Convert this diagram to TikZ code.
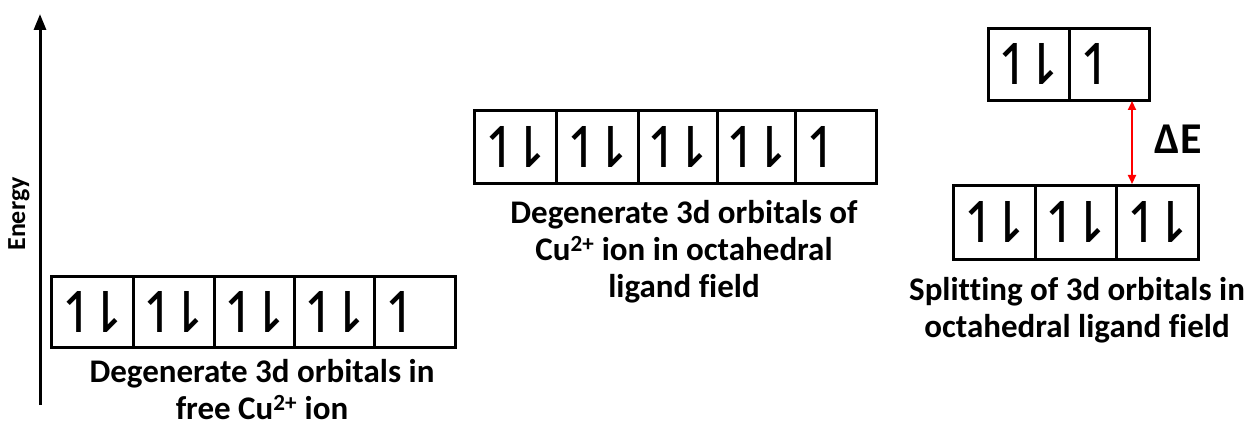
\documentclass[tikz,border=0pt]{standalone}
\usepackage{fontspec}
\setmainfont{Carlito}[Ligatures=NoCommon]
\newfontfamily\djv{DejaVu Sans}
\usetikzlibrary{arrows.meta}
\tikzset{
  cell/.style={draw=black, line width=2.6pt, minimum height=71pt, inner sep=0pt, font=\djv\fontsize{56}{58}\selectfont, anchor=north west},
  lbl/.style={font=\bfseries\fontsize{33}{37}\selectfont, align=center, inner sep=0pt},
  axis/.style={line width=3pt, -{Triangle[length=16pt,width=12pt]}},
  gap/.style={draw=red, line width=2pt, {Triangle[length=9pt,width=8pt]}-{Triangle[length=9pt,width=8pt]}}
}
\newcommand{\pr}{↿\kern-0.36em⇂}
\newcommand{\sg}{↿\kern0.45em\relax}
\begin{document}
\begin{tikzpicture}[x=1pt,y=-1pt]
\useasboundingbox (0,0) rectangle (1248,425);
% energy axis
\coordinate (ax0) at (40,405);
\coordinate (ax1) at (40,14);
\draw[axis] (ax0) -- (ax1);
\node[rotate=90, font=\bfseries\fontsize{26}{28}\selectfont, inner sep=0pt] (energy) at (19,214) {Energy};
% free ion row
\node[cell, minimum width=82pt] (a1) at (50,275) {\pr};
\node[cell, minimum width=81pt] (a2) at (132,275) {\pr};
\node[cell, minimum width=80pt] (a3) at (213,275) {\pr};
\node[cell, minimum width=80pt] (a4) at (293,275) {\pr};
\node[cell, minimum width=81pt] (a5) at (373,275) {\sg};
\node[lbl] (la) at (262,390) {Degenerate 3d orbitals in\\free Cu\textsuperscript{2+} ion};
% octahedral degenerate row
\node[cell, minimum width=82pt, minimum height=73pt] (b1) at (473,109) {\pr};
\node[cell, minimum width=82pt, minimum height=73pt] (b2) at (555,109) {\pr};
\node[cell, minimum width=79pt, minimum height=73pt] (b3) at (637,109) {\pr};
\node[cell, minimum width=78pt, minimum height=73pt] (b4) at (716,109) {\pr};
\node[cell, minimum width=81pt, minimum height=73pt] (b5) at (794,109) {\sg};
\node[lbl] (lb) at (684,252) {Degenerate 3d orbitals of\\Cu\textsuperscript{2+} ion in octahedral\\ligand field};
% split: eg
\node[cell, minimum width=81pt, minimum height=72pt] (e1) at (987,27) {\pr};
\node[cell, minimum width=80pt, minimum height=72pt] (e2) at (1068,27) {\sg};
% split: t2g
\node[cell, minimum width=82pt, minimum height=74pt] (t1) at (952,184) {\pr};
\node[cell, minimum width=81pt, minimum height=74pt] (t2) at (1034,184) {\pr};
\node[cell, minimum width=82pt, minimum height=74pt] (t3) at (1115,184) {\pr};
\coordinate (gtop) at (1132,101);
\coordinate (gbot) at (1132,184);
\draw[gap] (gtop) -- (gbot);
\node[font=\bfseries\fontsize{44}{46}\selectfont, inner sep=0pt] (de) at (1178,139) {ΔE};
\node[lbl] (lc) at (1077,310) {Splitting of 3d orbitals in\\octahedral ligand field};
\end{tikzpicture}
\end{document}
